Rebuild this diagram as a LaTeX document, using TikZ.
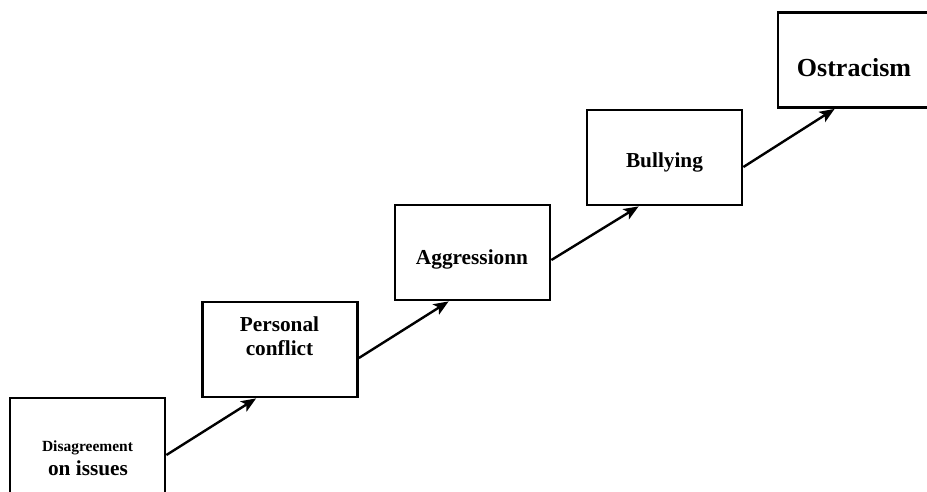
\documentclass[tikz,border=0pt]{standalone}
\usepackage{fontspec}
\setmainfont{Liberation Serif}
\usetikzlibrary{calc,arrows.meta}
\begin{document}
\begin{tikzpicture}[x=1pt,y=-1pt,
  stage/.style={draw=black,line width=2.8pt,fill=white,minimum width=155pt,minimum height=95pt,inner sep=0pt},
  lbl/.style={font=\bfseries\fontsize{21.3}{24}\selectfont,inner sep=0pt,anchor=center},
  flow/.style={line width=2.4pt,-{Stealth[length=15pt,width=12pt,inset=3.5pt]}}]
  \useasboundingbox (0,0) rectangle (927,491);
  \clip (0,0) rectangle (927,491);

  % boxes of the escalation staircase
  \node[stage] (b1) at (87.5,445.5) {};
  \node[stage] (b2) at (280,349.5) {};
  \node[stage] (b3) at (472.5,252.5) {};
  \node[stage] (b4) at (664.5,157.5) {};
  \node[stage] (b5) at (855.5,60) {};

  % labels
  \node[lbl,font=\bfseries\fontsize{15.5}{18}\selectfont] (t1a) at (87.5,448) {Disagreement};
  \node[lbl] (t1b) at (88,468) {on issues};
  \node[lbl] (t2a) at (279.5,324) {Personal};
  \node[lbl] (t2b) at (279.5,348) {conflict};
  \node[lbl] (t3) at (472,259) {Aggressionn};
  \node[lbl] (t4) at (664.5,162) {Bullying};
  \node[lbl,font=\bfseries\fontsize{26}{30}\selectfont] (t5) at (854,68) {Ostracism};

  % connectors from each box to the bottom of the next one
  \draw[flow] ($(b1.east)+(0,9.5)$) -- ($(b2.south west)+(55,0)$);
  \draw[flow] ($(b2.east)+(0,8.5)$) -- ($(b3.south west)+(55,0)$);
  \draw[flow] ($(b3.east)+(0,7.5)$) -- ($(b4.south west)+(53,0)$);
  \draw[flow] ($(b4.east)+(0,9.5)$) -- ($(b5.south west)+(58,0)$);
\end{tikzpicture}
\end{document}
